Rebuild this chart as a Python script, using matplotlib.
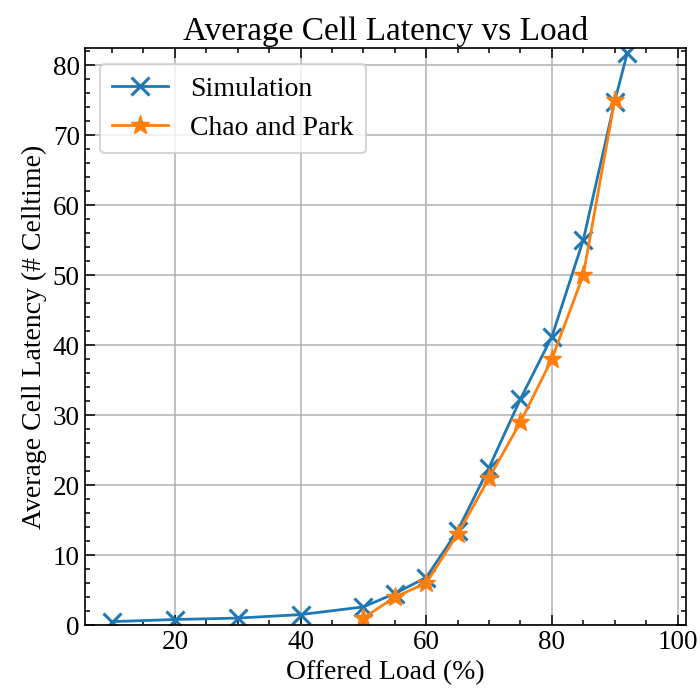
import numpy as np
import matplotlib
matplotlib.use('Agg')
import matplotlib.pyplot as plt

# offered load (%) and average latency (# celltime)
load_sim = [10, 20, 30, 40, 50, 55, 60, 65, 70, 75, 80, 85, 90, 92]
lat_sim = [0.5, 0.8, 1.0, 1.5, 2.6, 4.5, 6.8, 13.5, 22.5, 32.3, 41.2, 55.0, 74.8, 81.7]

load_cp = [50, 55, 60, 65, 70, 75, 80, 85, 90]
lat_cp = [1.0, 4.0, 6.0, 13.0, 21.0, 29.0, 38.0, 50.0, 75.0]

plt.rcParams['font.family'] = 'serif'
plt.rcParams['font.serif'] = ['Liberation Serif', 'DejaVu Serif']
plt.rcParams['mathtext.fontset'] = 'stix'

fig = plt.figure(figsize=(7, 7), dpi=100)
ax = fig.add_axes([0.121, 0.107, 0.859, 0.824])

ax.plot(load_sim, lat_sim, color='#1f77b4', marker='x', ms=13, mew=2.2, lw=2, label='Simulation')
ax.plot(load_cp, lat_cp, color='#ff7f0e', marker='*', ms=14, lw=2, label='Chao and Park')

ax.set_xlim(5.65, 101.35)
ax.set_ylim(0, 82.4)
ax.set_xticks([20, 40, 60, 80, 100])
ax.set_yticks(np.arange(0, 81, 10))
ax.minorticks_on()
ax.tick_params(which='both', direction='in', top=True, right=True, labelsize=19.5)
ax.tick_params(which='major', length=7, width=1.1)
ax.tick_params(which='minor', length=3.5, width=1.1)
for s in ax.spines.values():
    s.set_linewidth(1.2)
ax.grid(True, which='major', color='#b0b0b0', lw=1.1)

ax.set_xlabel('Offered Load (%)', fontsize=20)
ax.set_ylabel('Average Cell Latency (# Celltime)', fontsize=20)
ax.set_title('Average Cell Latency vs Load', fontsize=24)
leg = ax.legend(loc='upper left', fontsize=20, framealpha=0.8, borderpad=0.45,
                handlelength=2.0, handletextpad=0.8, borderaxespad=0.55)
leg.get_frame().set_linewidth(1.5)

fig.savefig('out.png', dpi=100)
